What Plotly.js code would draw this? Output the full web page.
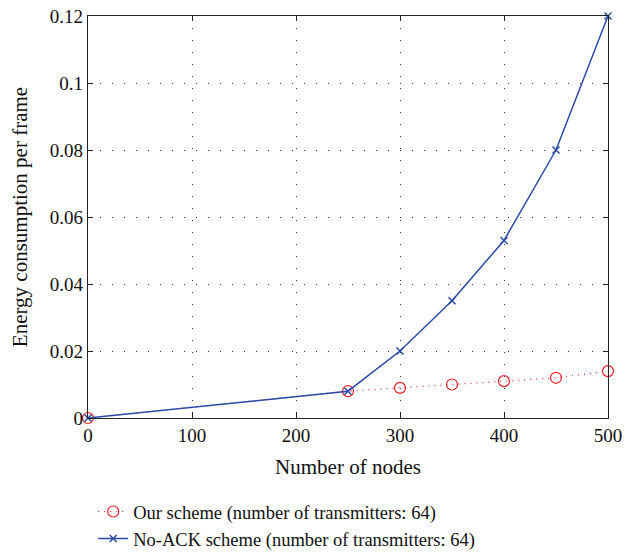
<!DOCTYPE html>
<html><head><meta charset="utf-8">
<script src="https://cdn.plot.ly/plotly-3.0.1.min.js"></script>
<style>body{margin:0;padding:0;background:#fff}#chart{width:624px;height:552px}</style>
</head><body><div id="chart"></div>
<script>
const nodes = [0, 250, 300, 350, 400, 450, 500];
const ourScheme = [0, 0.008, 0.009, 0.010, 0.011, 0.012, 0.014];
const noAck = [0, 0.008, 0.020, 0.035, 0.053, 0.080, 0.120];
const xTicks = [0, 100, 200, 300, 400, 500];
const yTicks = [0, 0.02, 0.04, 0.06, 0.08, 0.1, 0.12];
const yTickText = ['0', '0.02', '0.04', '0.06', '0.08', '0.1', '0.12'];

const fam = 'Liberation Serif';
const tickFont = {family: fam, size: 19, color: '#111'};
const titleFont = {family: fam, size: 21, color: '#111'};
const legFont = {family: fam, size: 18.5, color: '#111'};

const traces = [
  {x: nodes, y: ourScheme, mode: 'lines+markers', name: 'Our scheme (number of transmitters: 64)',
   cliponaxis: false,
   line: {color: '#e8202a', width: 1.2, dash: '1px,5px'},
   marker: {symbol: 'circle-open', size: 11, color: '#e8202a', line: {width: 1.2, color: '#e8202a'}}},
  {x: nodes, y: noAck, mode: 'lines+markers', name: 'No-ACK scheme (number of transmitters: 64)',
   cliponaxis: false,
   line: {color: '#2a4aa8', width: 1.5},
   marker: {symbol: 'x-thin', size: 7, color: '#2a4aa8', line: {width: 1.5, color: '#2a4aa8'}}}
];

const axisCommon = {
  showline: true, linecolor: '#222', linewidth: 1.2, mirror: 'ticks',
  ticks: 'inside', ticklen: 5, tickcolor: '#222',
  showgrid: true, gridcolor: '#333', gridwidth: 1, griddash: '1px,11px',
  zeroline: false, tickfont: tickFont
};

const layout = {
  width: 624, height: 552,
  margin: {l: 88, r: 16, t: 16, b: 134, autoexpand: false},
  paper_bgcolor: '#fff', plot_bgcolor: '#fff',
  font: tickFont,
  showlegend: true,
  legend: {x: 0.01, y: -0.1865, xanchor: 'left', yanchor: 'top', font: legFont,
           bgcolor: 'rgba(0,0,0,0)', tracegroupgap: 0, itemwidth: 30},
  xaxis: Object.assign({}, axisCommon, {range: [0, 500], tickvals: xTicks,
    title: {text: 'Number of nodes', font: titleFont, standoff: 14}}),
  yaxis: Object.assign({}, axisCommon, {range: [0, 0.12], tickvals: yTicks, ticktext: yTickText,
    title: {text: 'Energy consumption per frame', font: titleFont, standoff: 16}})
};

Plotly.newPlot('chart', traces, layout, {displayModeBar: false, staticPlot: true});
</script></body></html>
